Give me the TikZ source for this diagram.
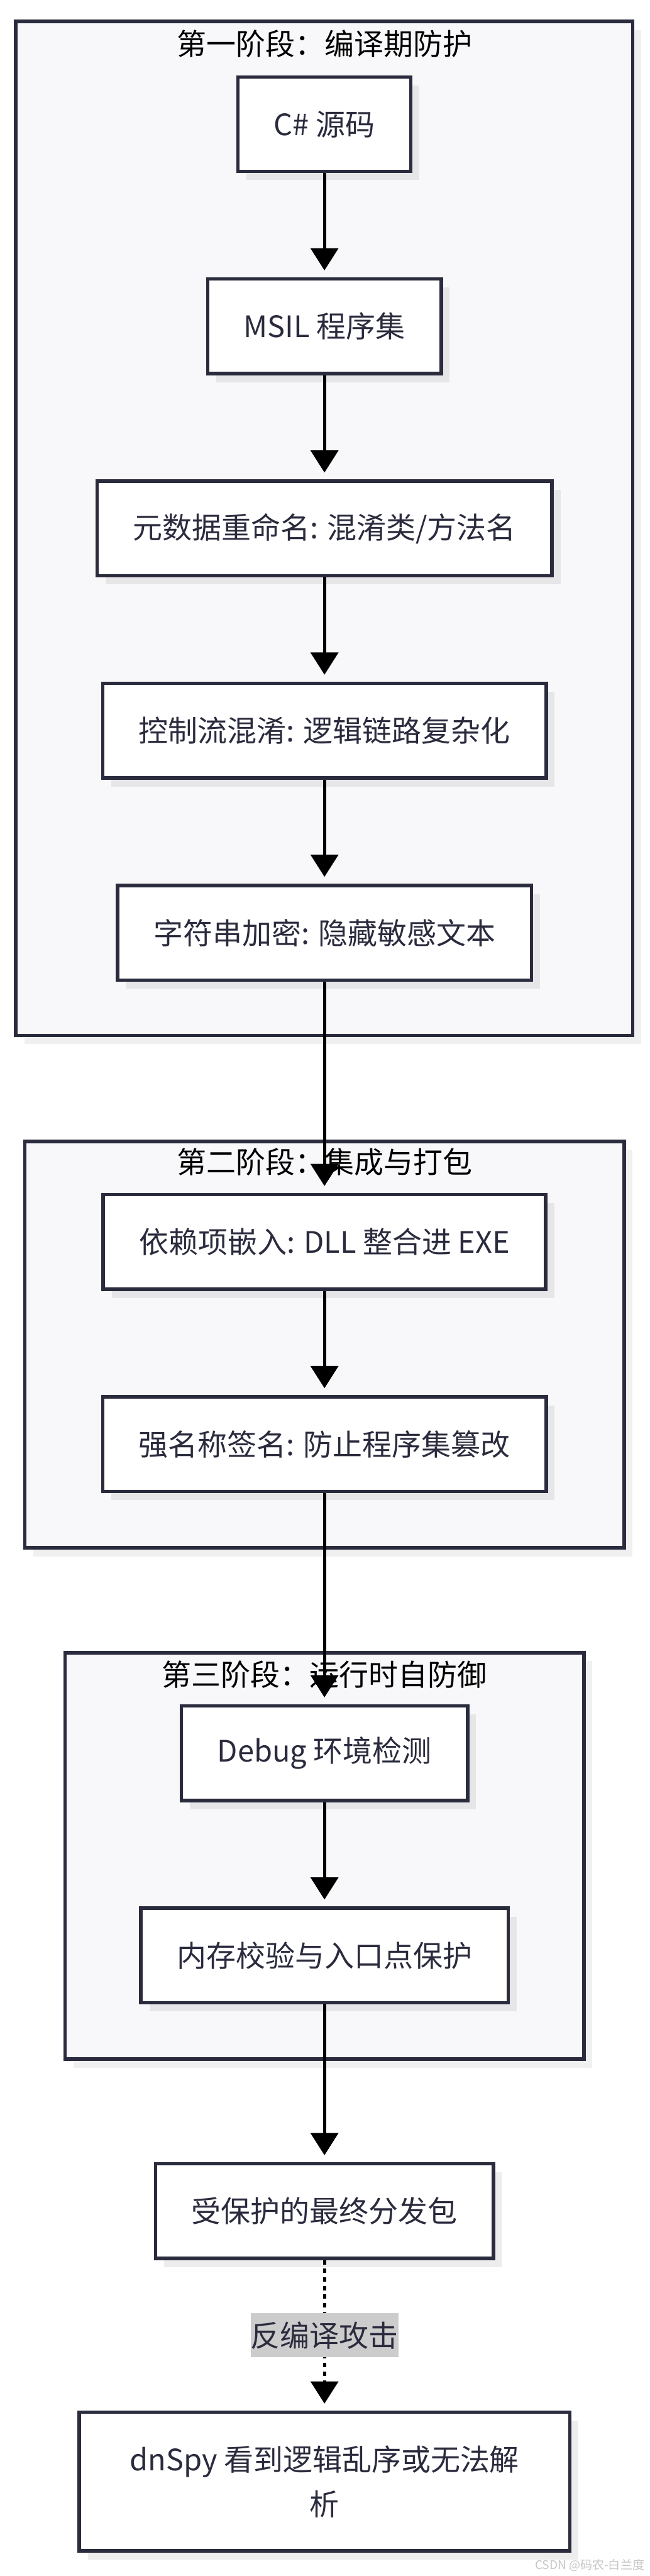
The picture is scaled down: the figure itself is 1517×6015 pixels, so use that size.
\documentclass[tikz,border=0pt]{standalone}
\usepackage{fontspec}
\setmainfont{Noto Sans CJK SC}
\usetikzlibrary{positioning,fit,shadows,arrows.meta}
\definecolor{ink}{HTML}{2B2B3E}
\definecolor{stagebg}{HTML}{F8F8FA}
\newcommand{\bigfont}{\fontsize{69pt}{83pt}\selectfont}

\tikzset{
  stage/.style={draw=ink, line width=8pt, fill=stagebg, inner sep=0pt,
    drop shadow={shadow xshift=20pt, shadow yshift=-20pt, fill=black, opacity=.06}},
  stagetitle/.style={font=\bigfont, text=black, inner sep=0pt},
  stepbox/.style={draw=ink, line width=8pt, fill=white, text=ink, font=\bigfont,
    minimum height=221pt, inner xsep=84pt,
    drop shadow={shadow xshift=20pt, shadow yshift=-20pt, fill=black, opacity=.07}},
  flow/.style={-{Triangle[width=64pt,length=52pt]}, line width=7.5pt, shorten >=16pt},
  attack/.style={flow, dash pattern=on 10pt off 10pt},
  attacklabel/.style={fill=gray!40, text=ink, font=\bigfont, inner sep=0pt, minimum height=103pt},
}

\begin{document}
\begin{tikzpicture}[x=1pt, y=-1pt]
  \useasboundingbox[fill=white] (0,0) rectangle (1517,6015);

  % stages
  \node[stage, fit={(37,50) (1478,2418)}] (stage1) {};
  \node[stage, fit={(58,2665) (1458,3614)}] (stage2) {};
  \node[stage, fit={(152,3859) (1364,4808)}] (stage3) {};
  \node[stagetitle] (title1) at (758,102) {第一阶段：编译期防护};
  \node[stagetitle] (title2) at (758,2714) {第二阶段：集成与打包};
  \node[stagetitle] (title3) at (758,3910) {第三阶段：运行时自防御};

  % steps
  \node[stepbox] (src) at (758,290) {C\# 源码};
  \node[stepbox] (asm) [below=243pt of src] {MSIL 程序集};
  \node[stepbox] (rename) [below=243pt of asm] {元数据重命名: 混淆类/方法名};
  \node[stepbox] (ctrl) [below=243pt of rename] {控制流混淆: 逻辑链路复杂化};
  \node[stepbox] (strenc) [below=243pt of ctrl] {字符串加密: 隐藏敏感文本};
  \node[stepbox] (embed) [below=493pt of strenc] {依赖项嵌入: DLL 整合进 EXE};
  \node[stepbox] (sign) [below=243pt of embed] {强名称签名: 防止程序集篡改};
  \node[stepbox] (debug) [below=493pt of sign] {Debug 环境检测};
  \node[stepbox] (memchk) [below=243pt of debug] {内存校验与入口点保护};
  \node[stepbox] (ship) [below=368pt of memchk] {受保护的最终分发包};
  \node[stepbox, align=center, inner xsep=118pt, minimum height=324pt,
    font=\fontsize{69pt}{104pt}\selectfont] (dnspy) [below=351pt of ship]
    {dnSpy 看到逻辑乱序或无法解\\析};

  \node[text=gray!45, font=\fontsize{28pt}{30pt}\selectfont, anchor=east] (mark)
    at (1509,5990) {CSDN @码农-白兰度};

  % flow
  \draw[flow] (src) -- (asm);
  \draw[flow] (asm) -- (rename);
  \draw[flow] (rename) -- (ctrl);
  \draw[flow] (ctrl) -- (strenc);
  \draw[flow] (strenc) -- (embed);
  \draw[flow] (embed) -- (sign);
  \draw[flow] (sign) -- (debug);
  \draw[flow] (debug) -- (memchk);
  \draw[flow] (memchk) -- (ship);
  \draw[attack] (ship) -- node[attacklabel] (hack) {反编译攻击} (dnspy);
\end{tikzpicture}
\end{document}
